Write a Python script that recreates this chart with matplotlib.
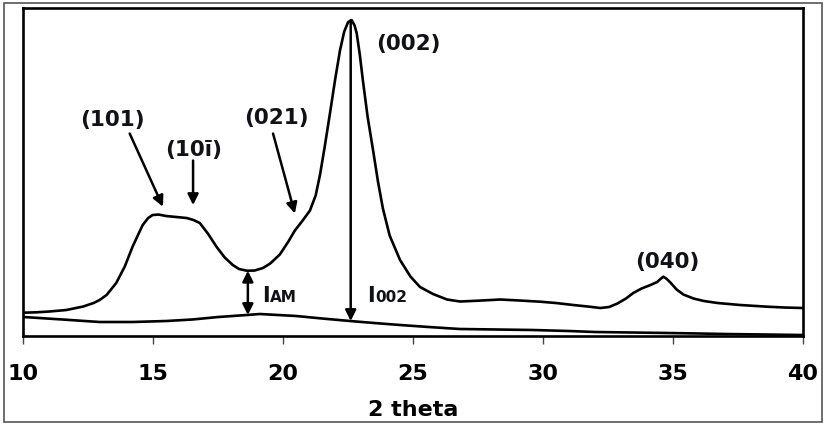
import matplotlib.pyplot as plt
from matplotlib.patches import Rectangle

plt.rcParams['font.family'] = ['DejaVu Sans']

# diffractogramme (intensite en unites arbitraires)
two_theta = [10.0, 10.5, 11.0, 11.65, 12.3, 12.7, 12.93, 13.2, 13.57, 13.9, 14.2,
             14.4, 14.59, 14.8, 14.97, 15.2, 15.5, 15.9, 16.29, 16.55, 16.79,
             17.1, 17.44, 17.75, 18.06, 18.3, 18.6, 18.9, 19.22, 19.5, 19.87,
             20.2, 20.45, 20.75, 21.03, 21.25, 21.42, 21.6, 21.8, 22.0, 22.19,
             22.35, 22.5, 22.64, 22.75, 22.83, 22.95, 23.07, 23.25, 23.46, 23.65,
             23.84, 24.1, 24.5, 24.9, 25.27, 25.77, 26.31, 26.81, 27.5, 28.36,
             29.1, 29.9, 30.5, 31.17, 31.8, 32.21, 32.55, 32.87, 33.2, 33.48,
             33.8, 34.14, 34.4, 34.55, 34.64, 34.75, 34.91, 35.15, 35.41, 35.8,
             36.2, 36.73, 37.6, 38.65, 39.3, 40.0]
intensity = [23.8, 24.2, 25.0, 26.5, 30.0, 33.5, 36.5, 41.5, 53.5, 70.0, 89.8,
             101.0, 111.5, 118.5, 121.5, 122.0, 120.5, 119.5, 118.5, 116.5, 113.5,
             103.0, 89.5, 79.0, 71.5, 67.5, 65.8, 66.0, 68.5, 73.0, 82.0,
             95.0, 106.0, 116.0, 126.0, 141.0, 162.0, 190.0, 223.0, 257.0, 286.5,
             305.0, 314.5, 316.5, 311.0, 303.5, 282.0, 256.0, 220.0, 186.5, 155.0,
             128.0, 101.0, 76.5, 60.0, 49.5, 42.5, 37.0, 35.0, 35.8, 37.0,
             36.0, 34.8, 33.5, 31.5, 29.8, 28.5, 29.5, 33.0, 38.0, 43.5,
             48.0, 51.5, 54.5, 58.0, 59.8, 58.0, 54.0, 47.0, 42.0, 38.0,
             35.5, 33.5, 31.5, 29.8, 29.0, 28.5]

# fond amorphe
base_theta = [10.0, 11.5, 12.93, 14.2, 15.5, 16.5, 17.5, 18.6, 19.1, 20.5, 21.5,
              22.57, 23.5, 24.5, 25.6, 26.8, 28.2, 29.6, 31.0, 32.0, 33.4, 34.8,
              36.0, 37.0, 38.5, 40.0]
base_int = [19.5, 17.0, 14.5, 14.5, 15.5, 17.0, 19.5, 21.5, 22.5, 20.5, 18.0,
            15.5, 13.5, 11.5, 9.5, 7.5, 7.0, 6.5, 5.5, 4.5, 4.0, 3.5,
            3.0, 2.5, 2.0, 1.5]

# etiquettes des plans : texte, position du texte, debut et pointe de la fleche
plans = ["(101)", "(10ī)", "(021)"]
plan_txt = [(13.44, 216.5), (16.55, 187.0), (19.75, 218.5)]
plan_start = [(14.09, 203.0), (16.53, 176.0), (19.61, 203.0)]
plan_tip = [(15.37, 129.8), (16.53, 131.5), (20.45, 123.0)]

x_am = 18.64
x_002 = 22.6

fig = plt.figure(figsize=(8.24, 4.23), dpi=100)
fig.patches.append(Rectangle((0.005, 0.003), 0.992, 0.99, transform=fig.transFigure,
                             fill=False, edgecolor='#555555', linewidth=1.2))
ax = fig.add_axes([0.0285, 0.2045, 0.9455, 0.7775])

ax.plot(two_theta, intensity, color='black', lw=1.9)
ax.plot(base_theta, base_int, color='black', lw=1.9)

ax.set_xlim(10, 40)
ax.set_ylim(0, 329)
ax.set_xticks([10, 15, 20, 25, 30, 35, 40])
ax.set_yticks([])
for s in ax.spines.values():
    s.set_linewidth(1.9)
ax.tick_params(axis='x', direction='out', length=6, width=1, color='#444444',
               pad=14, labelsize=16)
for lab in ax.get_xticklabels():
    lab.set_fontweight('bold')
ax.set_xlabel("2 theta", fontsize=16, fontweight='bold', labelpad=11)

bold = dict(fontsize=15.5, fontweight='bold', ha='center', va='center', color='#111118')
arr = dict(arrowstyle='-|>', color='black', lw=1.8, mutation_scale=16, shrinkA=0, shrinkB=0)

for txt, pt, st, tip in zip(plans, plan_txt, plan_start, plan_tip):
    ax.text(pt[0], pt[1], txt, **bold)
    ax.annotate("", xy=tip, xytext=st, arrowprops=arr)

ax.text(24.82, 293, "(002)", **bold)
ax.text(34.79, 75, "(040)", **bold)

# I_AM : fleche double entre le fond et le minimum
i_min = intensity[two_theta.index(18.6)]
b_min = base_int[base_theta.index(18.6)]
ax.annotate("", xy=(x_am, b_min), xytext=(x_am, i_min),
            arrowprops=dict(arrowstyle='<|-|>', color='black', lw=1.8,
                            mutation_scale=16, shrinkA=0, shrinkB=0))
# I_002 : du sommet jusqu'au fond
ax.annotate("", xy=(x_002, 15.5), xytext=(x_002, max(intensity)),
            arrowprops=arr)

ax.text(19.2, 35, "I", fontsize=15, fontweight='bold', va='baseline', color='#111118')
ax.text(19.5, 35, "AM", fontsize=11, fontweight='bold', va='baseline', color='#111118')
ax.text(23.25, 35, "I", fontsize=15, fontweight='bold', va='baseline', color='#111118')
ax.text(23.55, 35, "002", fontsize=11, fontweight='bold', va='baseline', color='#111118')

fig.savefig("out.png", dpi=100)
